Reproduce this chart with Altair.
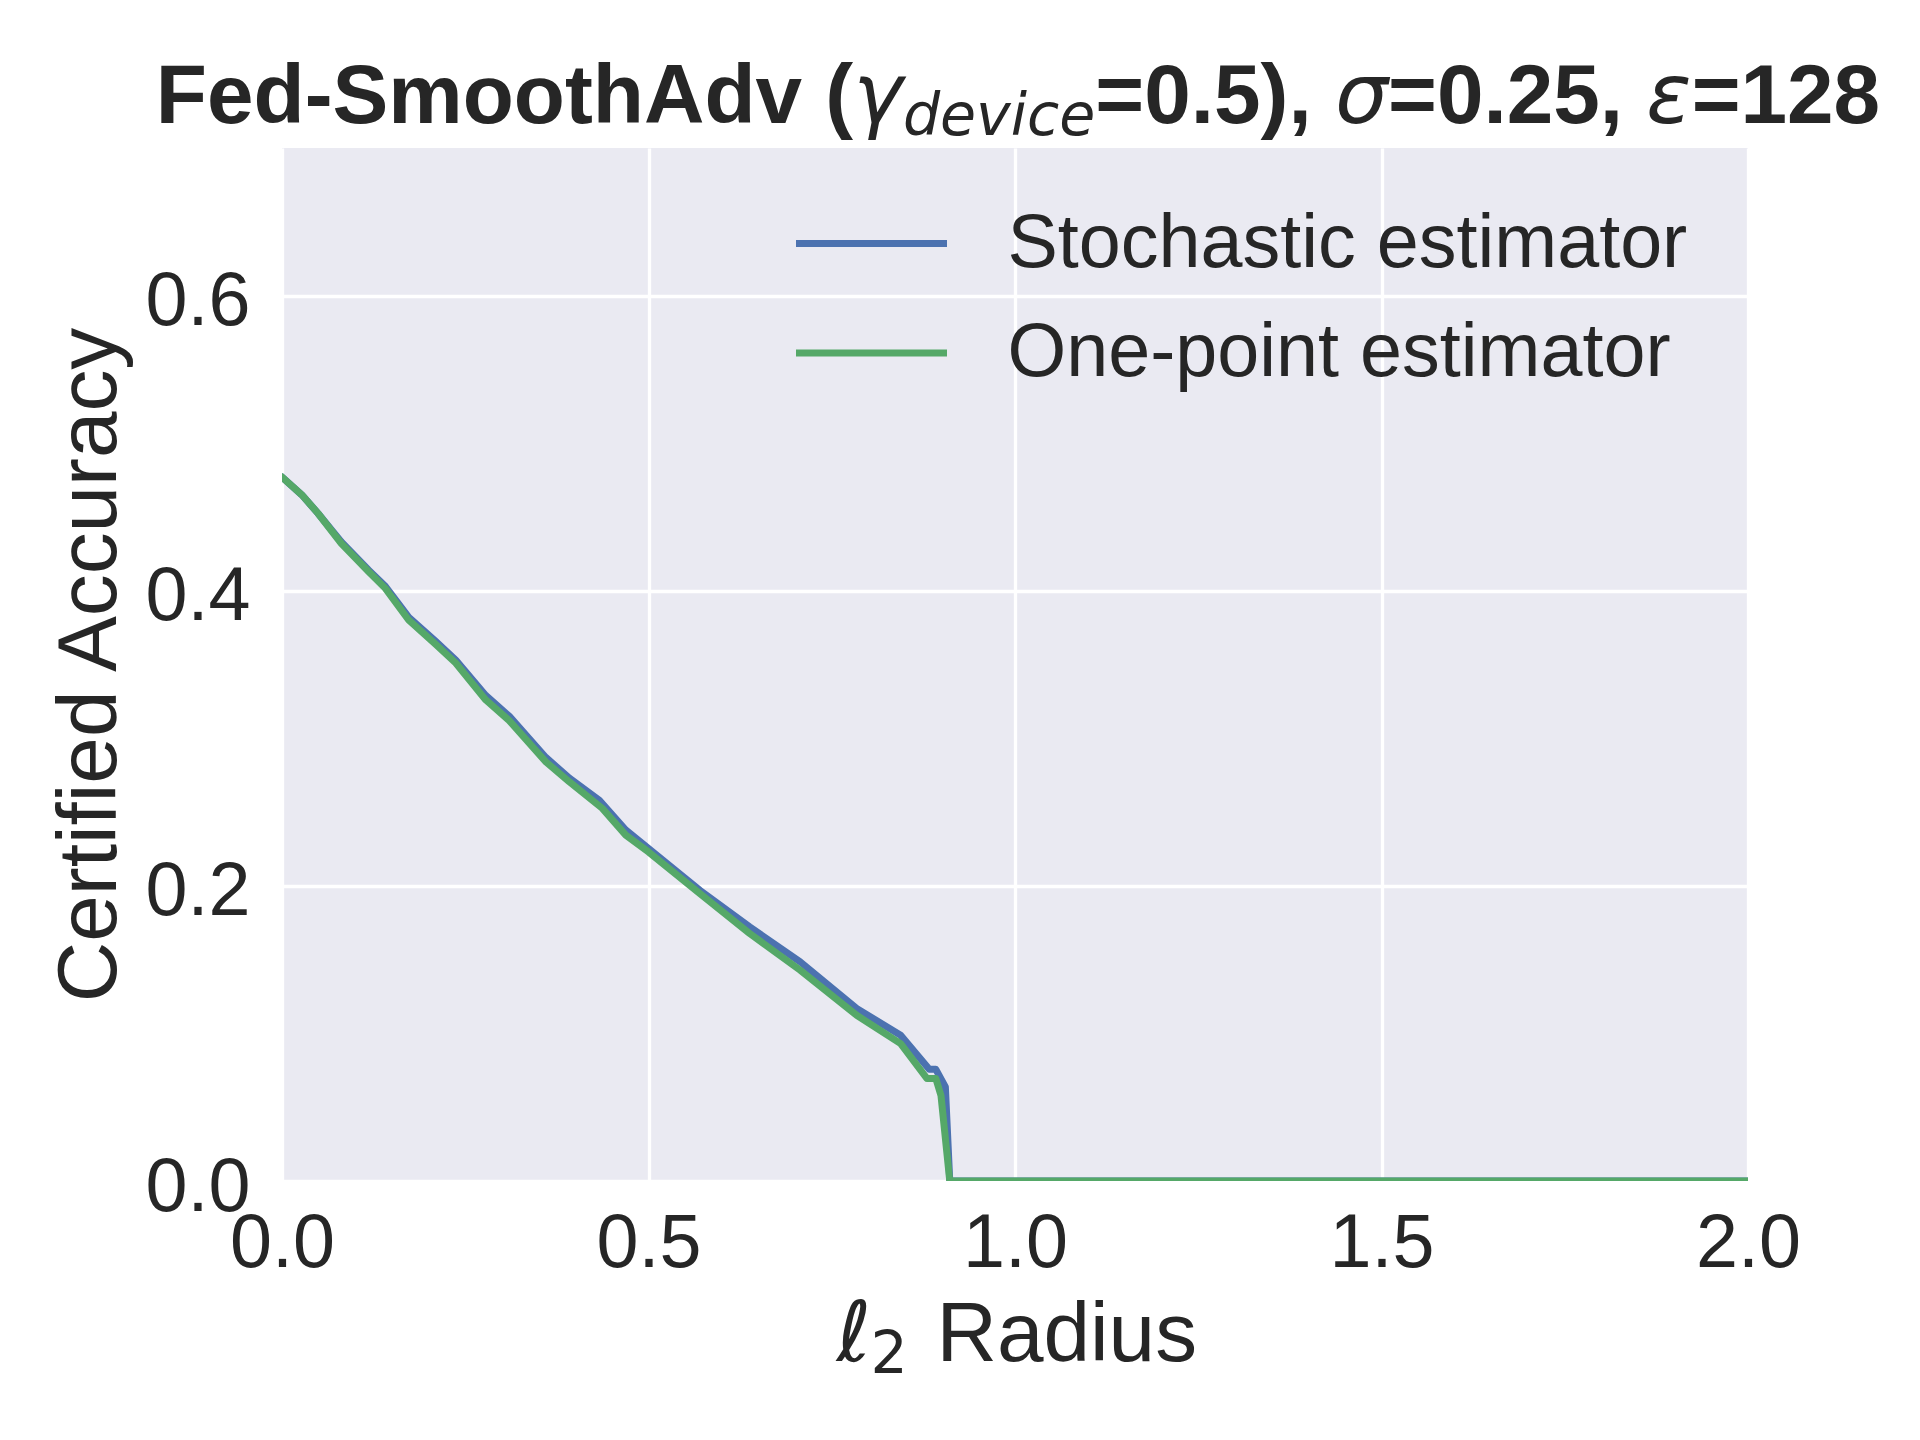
import altair as alt
import pandas as pd

# ---------------- data ----------------
series_names = ["Stochastic estimator", "One-point estimator"]
series_colors = ["#4C72B0", "#55A868"]

radius_stochastic = [0.0, 0.027, 0.049, 0.081, 0.118, 0.141, 0.173, 0.209, 0.237,
                     0.278, 0.310, 0.360, 0.392, 0.433, 0.469, 0.500, 0.570, 0.638,
                     0.707, 0.784, 0.844, 0.883, 0.892, 0.905, 0.911, 2.0]
acc_stochastic = [0.477, 0.465, 0.4525, 0.433, 0.414, 0.403, 0.382, 0.366, 0.353,
                  0.329, 0.315, 0.287, 0.273, 0.258, 0.2378, 0.2253, 0.197, 0.1722,
                  0.1485, 0.1169, 0.0988, 0.0757, 0.0757, 0.0637, 0.0, 0.0]

radius_onepoint = [0.0, 0.027, 0.049, 0.081, 0.118, 0.141, 0.173, 0.209, 0.237,
                   0.278, 0.310, 0.360, 0.392, 0.437, 0.469, 0.500, 0.570, 0.638,
                   0.707, 0.784, 0.844, 0.880, 0.892, 0.899, 0.911, 2.0]
acc_onepoint = [0.477, 0.465, 0.4525, 0.432, 0.413, 0.4016, 0.380, 0.364, 0.351,
                0.326, 0.312, 0.284, 0.2705, 0.2525, 0.2344, 0.223, 0.1948, 0.1677,
                0.1428, 0.1123, 0.0931, 0.0694, 0.0694, 0.058, 0.0, 0.0]

x_ticks = [0.0, 0.5, 1.0, 1.5, 2.0]
y_ticks = [0.0, 0.2, 0.4, 0.6]
x_domain = [0.0, 2.0]
y_domain = [0.0, 0.7]

title_pieces = ["Fed-SmoothAdv (", "\u03b3", "device", "=0.5), ", "\u03c3", "=0.25, ", "\u03b5", "=128"]
y_title = "Certified Accuracy"
x_title_pieces = ["\u2113", "2", "Radius"]

# ---------------- layout / style ----------------
W, H = 1466, 1033
TXT = "#262626"
SANS = "Liberation Sans"
MATH = "DejaVu Sans"
F_BIG = 83.7
F_SUB = F_BIG * 0.7
F_TICK = 75.5
LW = 7

df = pd.concat([
    pd.DataFrame({"radius": radius_stochastic, "acc": acc_stochastic, "series": series_names[0]}),
    pd.DataFrame({"radius": radius_onepoint, "acc": acc_onepoint, "series": series_names[1]}),
])

xs = alt.Scale(domain=x_domain, nice=False, zero=False)
ys = alt.Scale(domain=y_domain, nice=False)
cs = alt.Scale(domain=series_names, range=series_colors)

x_axis = alt.Axis(values=x_ticks, format=".1f", title=None, labelFontSize=F_TICK,
                  labelPadding=85, labelBaseline="alphabetic", labelFlush=False,
                  labelOverlap=False)
y_axis = alt.Axis(values=y_ticks, format=".1f", title=y_title, labelFontSize=F_TICK,
                  labelPadding=32, labelAlign="right", labelBaseline="alphabetic",
                  labelOffset=29, labelFlush=False, labelOverlap=False,
                  titleFontSize=F_BIG, titleFont=SANS, titleFontWeight="normal",
                  titleColor=TXT, titleAngle=270, titleX=-167, titleY=H / 2,
                  titleAlign="center", titleBaseline="alphabetic")

legend = alt.Legend(title=None, orient="none", legendX=510.5, legendY=58, padding=0,
                    symbolType="stroke", symbolSize=151 * 151, symbolStrokeWidth=LW,
                    labelFontSize=F_TICK, labelFont=SANS, labelColor=TXT,
                    labelOffset=57, labelLimit=2000, clipHeight=75, rowPadding=33.4,
                    labelBaseline="middle")


def line_layer(name):
    return alt.Chart(df).transform_filter(alt.datum.series == name).mark_line(
        strokeWidth=LW, strokeCap="round", strokeJoin="round", clip=True
    ).encode(
        x=alt.X("radius:Q", scale=xs, axis=x_axis),
        y=alt.Y("acc:Q", scale=ys, axis=y_axis),
        color=alt.Color("series:N", scale=cs, legend=legend),
    )


# ---- rich title built from text pieces ----
bold_w = {"F": .611, "e": .556, "d": .611, "-": .333, "S": .667, "m": .889, "o": .611,
          "t": .333, "h": .611, "A": .722, "v": .556, " ": .278, "(": .333, ")": .333,
          "=": .584, ".": .278, ",": .278}
math_w = {"\u03b3": .592, "\u03c3": .634, "\u03b5": .541, "d": .635, "e": .615,
          "v": .592, "i": .278, "c": .550}


def width(s, table, size):
    return sum(table.get(ch, .556) for ch in s) * size


piece_style = []  # (font, size, weight, style, baseline_y)
for p in title_pieces:
    if p == "device":
        piece_style.append((MATH, F_SUB, "normal", "italic", -13))
    elif p in ("\u03b3", "\u03c3", "\u03b5"):
        piece_style.append((MATH, F_BIG, "normal", "italic", -25.3))
    else:
        piece_style.append((SANS, F_BIG, "bold", "normal", -25.3))

widths = []
for p, st in zip(title_pieces, piece_style):
    tbl = bold_w if st[0] == SANS else math_w
    widths.append(width(p, tbl, st[1]))
total = sum(widths)
cur = W / 2 - total / 2 + 3

text_layers = []
for p, st, w in zip(title_pieces, piece_style, widths):
    text_layers.append(
        alt.Chart(pd.DataFrame({"t": [p]})).mark_text(
            align="left", baseline="alphabetic", font=st[0], fontSize=st[1],
            fontWeight=st[2], fontStyle=st[3], color=TXT
        ).encode(x=alt.value(cur), y=alt.value(st[4]), text="t:N")
    )
    cur += w

# ---- x axis title: italic ell with subscript 2, then "Radius" ----
xt_specs = [
    (x_title_pieces[0], MATH, F_BIG, "italic", W / 2 - 178.5, H + 180),
    (x_title_pieces[1], MATH, F_SUB, "normal", W / 2 - 144.5, H + 191.7),
    (x_title_pieces[2], SANS, F_BIG, "normal", W / 2 - 78.5, H + 180),
]
for t, font, size, style, px, py in xt_specs:
    text_layers.append(
        alt.Chart(pd.DataFrame({"t": [t]})).mark_text(
            align="left", baseline="alphabetic", font=font, fontSize=size,
            fontStyle=style, color=TXT
        ).encode(x=alt.value(px), y=alt.value(py), text="t:N")
    )

chart = alt.layer(
    line_layer(series_names[0]), line_layer(series_names[1]), *text_layers
).properties(
    width=W, height=H,
    autosize=alt.AutoSizeParams(type="none"),
    padding={"left": 274, "top": 140, "right": 160, "bottom": 250},
    background="white",
).configure_view(
    fill="#EAEAF2", strokeWidth=0
).configure_axis(
    domain=False, ticks=False, tickSize=0, grid=True, gridColor="white",
    gridWidth=3.3, gridOpacity=1, labelFont=SANS, labelColor=TXT, labelBound=False,
)

chart.save("out.html", embed_options={"renderer": "svg", "actions": False})
